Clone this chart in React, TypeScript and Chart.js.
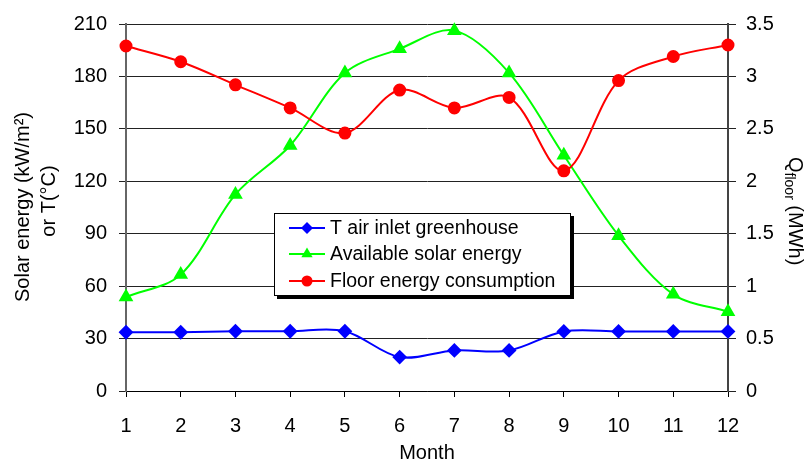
import React, { useEffect, useRef } from "react";
import { Chart, registerables } from "chart.js";

Chart.register(...registerables);

const months = [1, 2, 3, 4, 5, 6, 7, 8, 9, 10, 11, 12];
const tAirInlet = [33.6, 33.6, 34.2, 34.2, 34.2, 19.4, 23.2, 23.2, 34.1, 34.1, 34.1, 34.1];
const solarEnergy = [53.8, 66.6, 112.5, 140.5, 182, 195.8, 206.2, 182, 134.9, 88.9, 55.3, 45.3];
const floorEnergy = [3.29, 3.14, 2.92, 2.7, 2.46, 2.87, 2.7, 2.8, 2.1, 2.96, 3.19, 3.3];

const seriesLabels = ["T air inlet greenhouse", "Available solar energy", "Floor energy consumption"];
const seriesColors = ["#0000ff", "#00ff00", "#ff0000"];
const seriesMarkers = ["rectRot", "triangle", "circle"];
const xTitle = "Month";
const leftTitle = ["Solar energy (kW/m²)", "or T(°C)"];
const rightTitleMain = "Q";
const rightTitleSub = "floor";
const rightTitleTail = " (MWh)";

const FONT = '"Liberation Sans", Arial, sans-serif';

function drawMarker(ctx: CanvasRenderingContext2D, style: string, x: number, y: number, r: number, color: string) {
  ctx.fillStyle = color;
  ctx.beginPath();
  if (style === "circle") {
    ctx.arc(x, y, r, 0, Math.PI * 2);
  } else if (style === "triangle") {
    ctx.moveTo(x, y - r);
    ctx.lineTo(x + r * Math.sin(Math.PI / 3), y + r * 0.5);
    ctx.lineTo(x - r * Math.sin(Math.PI / 3), y + r * 0.5);
    ctx.closePath();
  } else {
    ctx.moveTo(x, y - r);
    ctx.lineTo(x + r, y);
    ctx.lineTo(x, y + r);
    ctx.lineTo(x - r, y);
    ctx.closePath();
  }
  ctx.fill();
}

const overlayPlugin = {
  id: "overlay",
  afterDraw(chart: any) {
    const ctx = chart.ctx as CanvasRenderingContext2D;
    const area = chart.chartArea;
    ctx.save();
    ctx.fillStyle = "#000";
    // x title
    ctx.font = `20px ${FONT}`;
    ctx.textAlign = "center";
    ctx.textBaseline = "alphabetic";
    ctx.fillText(xTitle, (area.left + area.right) / 2, 459);
    // left title
    ctx.save();
    ctx.translate(29, 207);
    ctx.rotate(-Math.PI / 2);
    ctx.font = `20px ${FONT}`;
    ctx.textAlign = "center";
    ctx.fillText(leftTitle[0], 0, 0);
    ctx.restore();
    ctx.save();
    ctx.translate(55, 201);
    ctx.rotate(-Math.PI / 2);
    ctx.font = `20px ${FONT}`;
    ctx.textAlign = "center";
    ctx.fillText(leftTitle[1], 0, 0);
    ctx.restore();
    // right title
    ctx.save();
    ctx.translate(789, 157);
    ctx.rotate(Math.PI / 2);
    ctx.textAlign = "left";
    ctx.font = `20px ${FONT}`;
    ctx.fillText(rightTitleMain, 0, 0);
    let w = ctx.measureText(rightTitleMain).width;
    ctx.font = `14px ${FONT}`;
    ctx.fillText(rightTitleSub, w, 4);
    w += ctx.measureText(rightTitleSub).width;
    ctx.font = `20px ${FONT}`;
    ctx.fillText(rightTitleTail, w, 0);
    ctx.restore();

    // legend
    const lx = 274, ly = 213, lw = 297, lh = 83;
    ctx.fillStyle = "#000";
    ctx.fillRect(lx + 3, ly + 3, lw, lh);
    ctx.fillStyle = "#fff";
    ctx.fillRect(lx, ly, lw, lh);
    ctx.strokeStyle = "#000";
    ctx.lineWidth = 1;
    ctx.strokeRect(lx + 0.5, ly + 0.5, lw - 1, lh - 1);
    const rows = [228, 254, 281];
    const radii = [6, 6.5, 5.5];
    for (let i = 0; i < 3; i++) {
      const y = rows[i];
      ctx.strokeStyle = seriesColors[i];
      ctx.lineWidth = 2;
      ctx.beginPath();
      ctx.moveTo(289, y);
      ctx.lineTo(325, y);
      ctx.stroke();
      drawMarker(ctx, seriesMarkers[i], 307, y, radii[i], seriesColors[i]);
      ctx.fillStyle = "#000";
      ctx.font = `19.5px ${FONT}`;
      ctx.textAlign = "left";
      ctx.textBaseline = "middle";
      ctx.fillText(seriesLabels[i], 330, y + 1);
    }
    ctx.restore();
  },
};

export default function App() {
  const ref = useRef<HTMLCanvasElement | null>(null);

  useEffect(() => {
    document.body.style.margin = "0";
    const canvas = ref.current;
    if (!canvas) return;
    const toPts = (arr: number[]) => months.map((m, i) => ({ x: m, y: arr[i] }));
    const tickFont = { family: FONT, size: 20 };
    const chart = new Chart(canvas, {
      type: "line",
      data: {
        datasets: [
          {
            label: seriesLabels[0],
            data: toPts(tAirInlet),
            yAxisID: "y",
            borderColor: seriesColors[0],
            backgroundColor: seriesColors[0],
            pointStyle: seriesMarkers[0] as any,
            pointRadius: 6,
            borderWidth: 2,
            tension: 0.33,
            order: 3,
            clip: false as any,
          },
          {
            label: seriesLabels[1],
            data: toPts(solarEnergy),
            yAxisID: "y",
            borderColor: seriesColors[1],
            backgroundColor: seriesColors[1],
            pointStyle: seriesMarkers[1] as any,
            pointRadius: 6.5,
            borderWidth: 2,
            tension: 0.33,
            order: 2,
            clip: false as any,
          },
          {
            label: seriesLabels[2],
            data: toPts(floorEnergy),
            yAxisID: "y1",
            borderColor: seriesColors[2],
            backgroundColor: seriesColors[2],
            pointStyle: seriesMarkers[2] as any,
            pointRadius: 5.5,
            borderWidth: 2,
            tension: 0.33,
            order: 1,
            clip: false as any,
          },
        ],
      },
      options: {
        responsive: false,
        animation: false,
        devicePixelRatio: 1,
        layout: { padding: { top: 20, left: 0, right: 0, bottom: 0 } },
        plugins: {
          legend: { display: false },
          tooltip: { enabled: false },
        },
        scales: {
          x: {
            type: "linear",
            min: 1,
            max: 12,
            ticks: { stepSize: 1, color: "#000", font: tickFont, padding: 17 },
            grid: { drawOnChartArea: false, drawTicks: true, tickLength: 6, color: "#000" },
            border: { display: true, color: "#000", width: 1 },
            afterFit: (s: any) => {
              s.height = 71;
            },
          },
          y: {
            type: "linear",
            position: "left",
            min: 0,
            max: 210,
            ticks: { stepSize: 30, color: "#000", font: tickFont, padding: 12 },
            grid: { color: "#222", lineWidth: 1, tickLength: 7 },
            border: { display: true, color: "#666", width: 2 },
            afterFit: (s: any) => {
              s.width = 126;
            },
          },
          y1: {
            type: "linear",
            position: "right",
            min: 0,
            max: 3.5,
            ticks: {
              stepSize: 0.5,
              color: "#000",
              font: tickFont,
              padding: 10,
              callback: (v: any) => String(v),
            },
            grid: { drawOnChartArea: false, tickLength: 8, color: "#222" },
            border: { display: true, color: "#444", width: 2 },
            afterFit: (s: any) => {
              s.width = 79;
            },
          },
        },
      },
      plugins: [overlayPlugin],
    });
    return () => chart.destroy();
  }, []);

  return (
    <div style={{ width: 807, height: 462, background: "#fff" }}>
      <canvas ref={ref} width={807} height={462} style={{ display: "block" }} />
    </div>
  );
}
